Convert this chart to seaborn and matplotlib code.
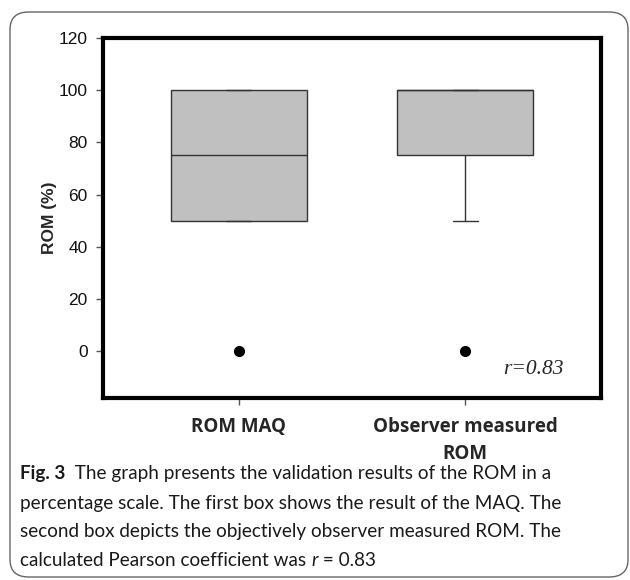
import matplotlib
matplotlib.use("Agg")
import matplotlib.pyplot as plt
import seaborn as sns
import pandas as pd
from matplotlib.patches import FancyBboxPatch

# ROM ratings (%) for the two methods
rom_maq = [0, 50, 50, 50, 50, 50, 50, 75, 75, 75, 75, 75,
           100, 100, 100, 100, 100, 100, 100, 100]
rom_observer = [0, 50, 50, 75, 75, 75, 75, 100, 100, 100, 100, 100,
                100, 100, 100, 100, 100, 100, 100, 100]
groups = ["ROM MAQ", "Observer measured\nROM"]
y_ticks = [0, 20, 40, 60, 80, 100, 120]
r_label = "r=0.83"

df = pd.DataFrame({
    "group": [groups[0]] * len(rom_maq) + [groups[1]] * len(rom_observer),
    "rom": rom_maq + rom_observer,
})

sns.set_style("white")
plt.rcParams["font.family"] = ["Liberation Sans", "DejaVu Sans"]

fig = plt.figure(figsize=(6.3, 5.8), dpi=100)
ax = fig.add_axes([103 / 630, 1 - 398 / 580, 498 / 630, 360 / 580])

sns.boxplot(data=df, x="group", y="rom", order=groups, ax=ax,
            whis=(10, 90), width=0.6, color="#c0c0c0", saturation=1,
            linecolor="#333333", linewidth=1.0,
            capwidths=0.11,
            flierprops=dict(marker="o", markerfacecolor="black",
                            markeredgecolor="black", markersize=7))

ax.set_xlim(-0.6, 1.6)
ax.set_ylim(-18, 120)
ax.set_yticks(y_ticks)
ax.set_yticklabels([str(v) for v in y_ticks], fontsize=12.5, color="#111111")
ax.set_xlabel("")
ax.set_ylabel("ROM (%)", fontsize=12.5, fontweight="bold")
ax.yaxis.set_label_coords(-0.093, 0.5)

for lab in ax.get_xticklabels():
    lab.set_fontfamily(["Open Sans", "DejaVu Sans"])
    lab.set_fontweight("bold")
    lab.set_fontsize(13.5)
    lab.set_linespacing(1.45)
ax.tick_params(axis="x", length=5, width=1, color="#555555", direction="out",
               bottom=True, pad=9)
ax.tick_params(axis="y", length=5, width=1, color="#555555", direction="out",
               left=True, pad=6)

for sp in ax.spines.values():
    sp.set_linewidth(3)
    sp.set_color("black")

ax.text(1.435, -7, r_label, fontsize=15.5, fontstyle="italic",
        fontfamily="Liberation Serif", ha="right", va="center")

# rounded outer frame
frame = FancyBboxPatch((10 / 630, 3 / 580), 618 / 630, 565 / 580,
                       boxstyle="round,pad=0,rounding_size=0.03",
                       transform=fig.transFigure, fill=False,
                       edgecolor="#666666", linewidth=1.0)
fig.patches.append(frame)

# caption, line by line
cap_font = ["Lato", "DejaVu Sans"]
cap_size = 13.6
caption = [
    [("Fig. 3", "bold", "normal"),
     ("  The graph presents the validation results of the ROM in a", "normal", "normal")],
    [("percentage scale. The first box shows the result of the MAQ. The", "normal", "normal")],
    [("second box depicts the objectively observer measured ROM. The", "normal", "normal")],
    [("calculated Pearson coefficient was ", "normal", "normal"),
     ("r", "normal", "italic"), (" = 0.83", "normal", "normal")],
]
line_y = [473, 503, 532, 561]

fig.canvas.draw()
renderer = fig.canvas.get_renderer()
for pieces, yy in zip(caption, line_y):
    x = 20
    for txt, wt, st in pieces:
        t = fig.text(x / 630, 1 - yy / 580, txt, fontsize=cap_size,
                     fontweight=wt, fontstyle=st, fontfamily=cap_font,
                     color="#1a1a1a", va="center", ha="left")
        bb = t.get_window_extent(renderer)
        x += bb.width

fig.savefig("out.png", dpi=100)
